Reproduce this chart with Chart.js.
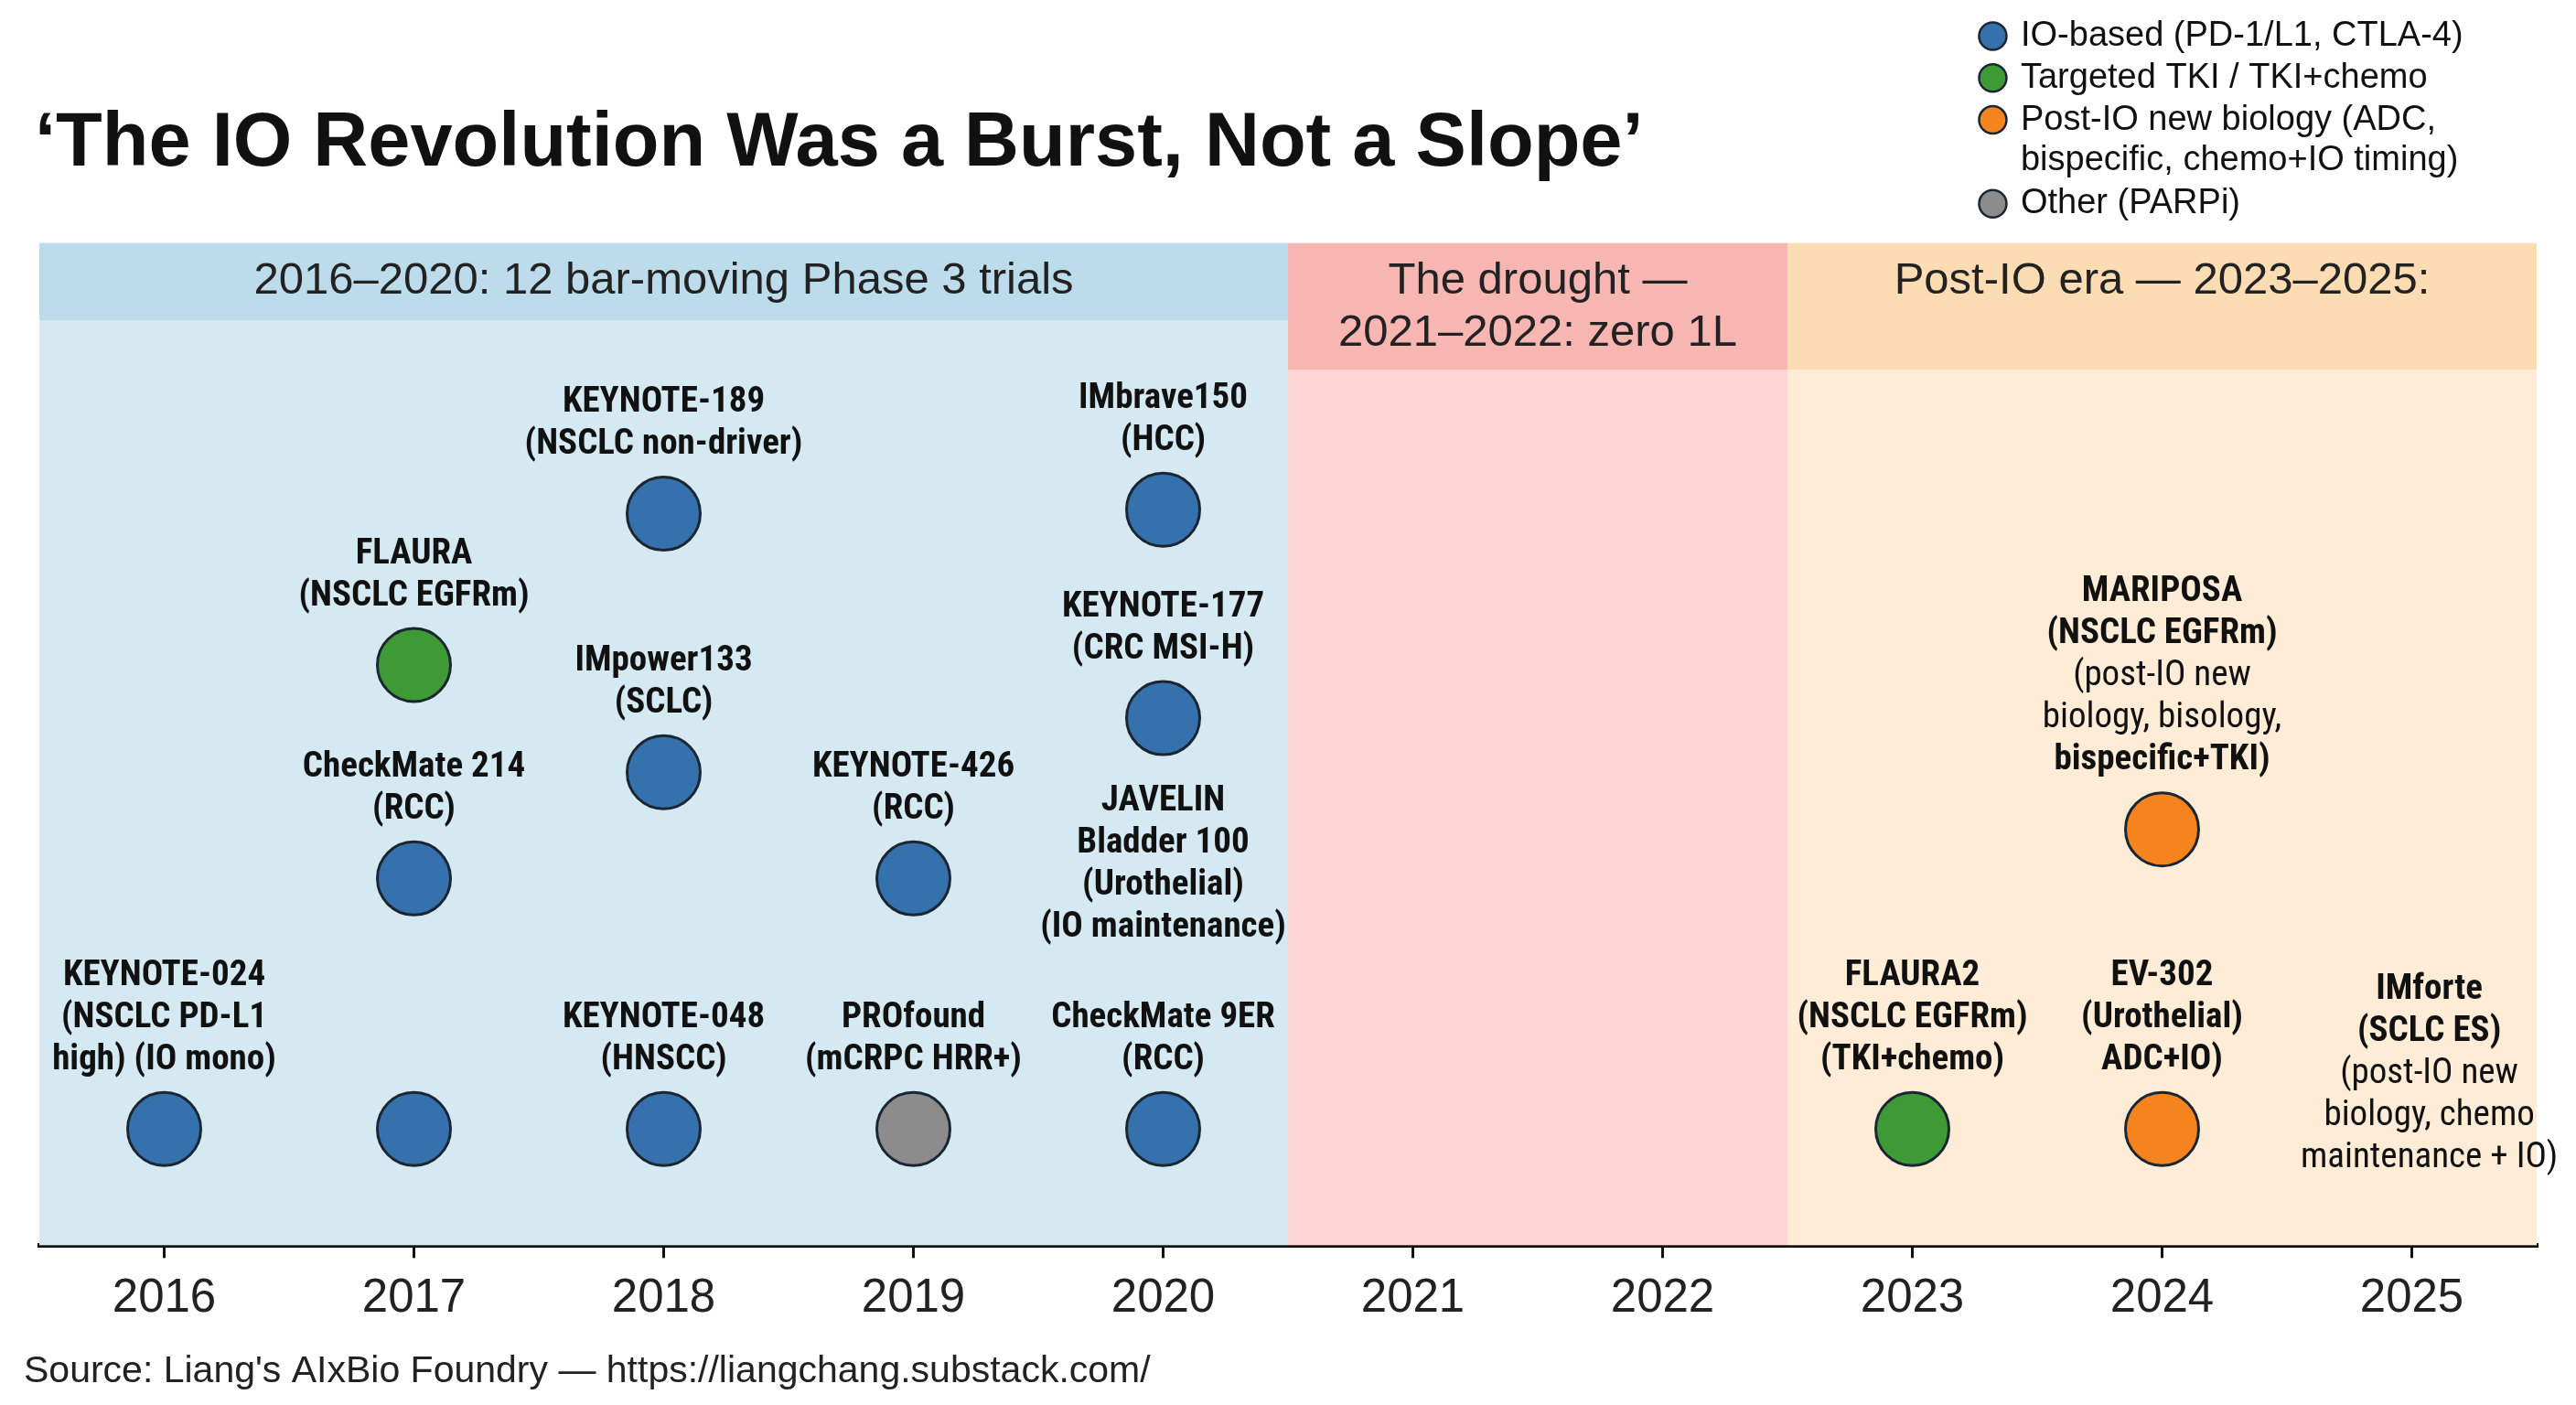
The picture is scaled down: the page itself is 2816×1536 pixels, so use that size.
<!DOCTYPE html>
<html>
<head>
<meta charset="utf-8">
<script src="https://cdn.jsdelivr.net/npm/chart.js@4/dist/chart.umd.min.js"></script>
<style>
  html, body { margin: 0; padding: 0; background: #fff; }
  #wrap { width: 2816px; height: 1536px; position: relative; }
</style>
</head>
<body>
<div id="wrap"><canvas id="c" width="2816" height="1536"></canvas></div>
<script>
// ---- data ----
var years = [2016, 2017, 2018, 2019, 2020, 2021, 2022, 2023, 2024, 2025];

var ioPoints = [
  { x: 2016, y: 11.6 }, { x: 2017, y: 11.6 }, { x: 2017, y: 36.6 },
  { x: 2018, y: 11.6 }, { x: 2018, y: 47.2 }, { x: 2018, y: 73.0 },
  { x: 2019, y: 36.6 },
  { x: 2020, y: 11.6 }, { x: 2020, y: 52.6 }, { x: 2020, y: 73.4 }
];
var tkiPoints = [{ x: 2017, y: 57.9 }, { x: 2023, y: 11.6 }];
var postIoPoints = [{ x: 2024, y: 11.6 }, { x: 2024, y: 41.5 }];
var otherPoints = [{ x: 2019, y: 11.6 }];

// label lines: [text, bold]
var trialLabels = [
  { x: 2016, y: 11.6, lines: [['KEYNOTE-024', 1], ['(NSCLC PD-L1', 1], ['high) (IO mono)', 1]] },
  { x: 2017, y: 57.9, lines: [['FLAURA', 1], ['(NSCLC EGFRm)', 1]] },
  { x: 2017, y: 36.6, lines: [['CheckMate 214', 1], ['(RCC)', 1]] },
  { x: 2018, y: 73.0, lines: [['KEYNOTE-189', 1], ['(NSCLC non-driver)', 1]] },
  { x: 2018, y: 47.2, lines: [['IMpower133', 1], ['(SCLC)', 1]] },
  { x: 2018, y: 11.6, lines: [['KEYNOTE-048', 1], ['(HNSCC)', 1]] },
  { x: 2019, y: 36.6, lines: [['KEYNOTE-426', 1], ['(RCC)', 1]] },
  { x: 2019, y: 11.6, lines: [['PROfound', 1], ['(mCRPC HRR+)', 1]] },
  { x: 2020, y: 73.4, lines: [['IMbrave150', 1], ['(HCC)', 1]] },
  { x: 2020, y: 52.6, lines: [['KEYNOTE-177', 1], ['(CRC MSI-H)', 1]] },
  { x: 2020, y: 24.8, lines: [['JAVELIN', 1], ['Bladder 100', 1], ['(Urothelial)', 1], ['(IO maintenance)', 1]] },
  { x: 2020, y: 11.6, lines: [['CheckMate 9ER', 1], ['(RCC)', 1]] },
  { x: 2023, y: 11.6, lines: [['FLAURA2', 1], ['(NSCLC EGFRm)', 1], ['(TKI+chemo)', 1]] },
  { x: 2024, y: 41.5, lines: [['MARIPOSA', 1], ['(NSCLC EGFRm)', 1], ['(post-IO new', 0], ['biology, bisology,', 0], ['bispecific+TKI)', 1]] },
  { x: 2024, y: 11.6, lines: [['EV-302', 1], ['(Urothelial)', 1], ['ADC+IO)', 1]] },
  { x: 2025.07, y: 1.8, lines: [['IMforte', 1], ['(SCLC ES)', 1], ['(post-IO new', 0], ['biology, chemo', 0], ['maintenance + IO)', 0]] }
];

var eras = [
  { from: 2015.5, to: 2020.5, head: '#bcdcec', body: '#d5e9f3', headBottom: 195, text: ['2016–2020: 12 bar-moving Phase 3 trials'] },
  { from: 2020.5, to: 2022.5, head: '#f8b6b3', body: '#fdd6d5', headBottom: 225, text: ['The drought —', '2021–2022: zero 1L'] },
  { from: 2022.5, to: 2025.5, head: '#fcdcb2', body: '#feecd6', headBottom: 225, text: ['Post-IO era — 2023–2025:'] }
];

var legendItems = [
  { color: '#3572ad', lines: ['IO-based (PD-1/L1, CTLA-4)'] },
  { color: '#3d9a35', lines: ['Targeted TKI / TKI+chemo'] },
  { color: '#f5841f', lines: ['Post-IO new biology (ADC,', 'bispecific, chemo+IO timing)'] },
  { color: '#8c8c8c', lines: ['Other (PARPi)'] }
];

var S = 2816 / 1568;
var FONT = '"Liberation Sans Narrow", "Roboto Condensed", Roboto, sans-serif';
var FONT2 = '"Liberation Sans", Arial, sans-serif';

var decor = {
  id: 'decor',
  beforeDatasetsDraw: function (chart) {
    var ctx = chart.ctx, x = chart.scales.x, a = chart.chartArea;
    ctx.save();
    eras.forEach(function (e) {
      var l = x.getPixelForValue(e.from), r = x.getPixelForValue(e.to);
      var hb = e.headBottom * S;
      ctx.fillStyle = e.body; ctx.fillRect(l, a.top, r - l, a.bottom - a.top);
      ctx.fillStyle = e.head; ctx.fillRect(l, a.top, r - l, hb - a.top);
      ctx.fillStyle = '#222'; ctx.font = '49px ' + FONT2;
      ctx.textAlign = 'center'; ctx.textBaseline = 'middle';
      e.text.forEach(function (t, i) { ctx.fillText(t, (l + r) / 2, 171 * S + i * 32 * S); });
    });
    // trial labels
    var y = chart.scales.y;
    ctx.fillStyle = '#111'; ctx.textBaseline = 'middle';
    trialLabels.forEach(function (lb) {
      var px = x.getPixelForValue(lb.x), py = y.getPixelForValue(lb.y);
      var n = lb.lines.length;
      lb.lines.forEach(function (ln, i) {
        ctx.font = (ln[1] ? 'bold ' : '') + '39px ' + FONT;
        ctx.fillText(ln[0], px, py - 75 - (n - 1 - i) * 46);
      });
    });
    ctx.restore();
  },
  afterDraw: function (chart) {
    var ctx = chart.ctx;
    ctx.save();
    ctx.fillStyle = '#111'; ctx.textAlign = 'left'; ctx.textBaseline = 'middle';
    ctx.font = 'bold 83px ' + FONT2;
    ctx.fillText('‘The IO Revolution Was a Burst, Not a Slope’', 38, 88 * S);
    ctx.font = '41px ' + FONT2; ctx.fillStyle = '#222';
    ctx.fillText('Source: Liang\'s AIxBio Foundry — https://liangchang.substack.com/', 26, 835 * S);
    var row = 22 * S;
    legendItems.forEach(function (it) {
      ctx.beginPath(); ctx.arc(1213 * S, row, 15, 0, Math.PI * 2);
      ctx.fillStyle = it.color; ctx.fill();
      ctx.lineWidth = 2.5; ctx.strokeStyle = '#1c2633'; ctx.stroke();
      ctx.fillStyle = '#111'; ctx.font = '38px ' + FONT2;
      it.lines.forEach(function (t, i) { ctx.fillText(t, 1230 * S, row + i * 24.5 * S); });
      row += it.lines.length * 25.5 * S;
    });
    ctx.restore();
  }
};

function ds(label, pts, color) {
  return { label: label, data: pts, backgroundColor: color, borderColor: '#1c2633',
    borderWidth: 3, pointRadius: 40, pointHoverRadius: 40 };
}

new Chart(document.getElementById('c'), {
  type: 'scatter',
  data: { datasets: [
    ds('IO-based', ioPoints, '#3572ad'),
    ds('Targeted TKI', tkiPoints, '#3d9a35'),
    ds('Post-IO new biology', postIoPoints, '#f5841f'),
    ds('Other (PARPi)', otherPoints, '#8c8c8c')
  ] },
  options: {
    responsive: false, animation: false,
    layout: { padding: { top: 148 * S, left: 13 * S, right: 2816 - 1554 * S, bottom: 0 } },
    plugins: { legend: { display: false }, tooltip: { enabled: false } },
    scales: {
      x: {
        type: 'linear', min: 2015.5, max: 2025.5,
        afterBuildTicks: function (s) { s.ticks = years.map(function (v) { return { value: v }; }); },
        afterFit: function (s) { s.height = 1536 - 758 * S; },
        ticks: { callback: function (v) { return String(v); }, color: '#222',
          font: { size: 51, family: FONT2 }, padding: 14, maxRotation: 0, autoSkip: false },
        grid: { drawOnChartArea: false, drawTicks: true, tickLength: 14, color: '#111', lineWidth: 3 },
        border: { display: true, color: '#111', width: 5 }
      },
      y: { display: false, min: 0, max: 100 }
    }
  },
  plugins: [decor]
});
</script>
</body>
</html>
